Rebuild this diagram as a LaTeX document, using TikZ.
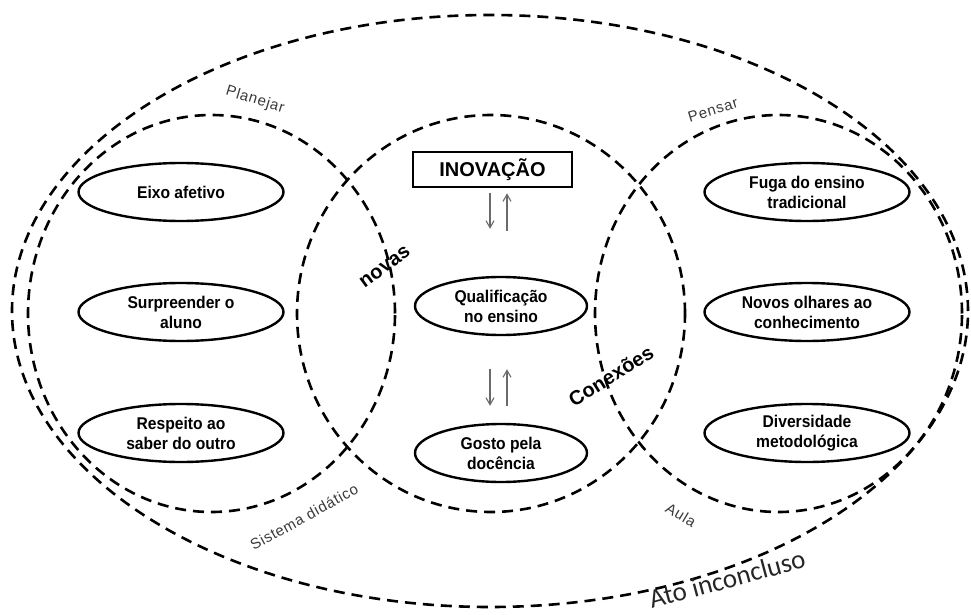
\documentclass[tikz,border=0pt]{standalone}
\usepackage{fontspec}
\setmainfont{Liberation Sans}
\newfontfamily\boxfont{Liberation Sans}[FakeStretch=0.92]
\newfontfamily\tagfont{Liberation Sans}[LetterSpace=5]
\newfontfamily\bigtagfont{Carlito}
\usetikzlibrary{arrows.meta,shapes.geometric}
\definecolor{labelgray}{HTML}{3A3A3A}
\definecolor{arrowgray}{HTML}{6A6A6A}

\begin{document}
\begin{tikzpicture}[x=1pt,y=-1pt,
  region/.style={draw=black, line width=2.6pt, dash pattern=on 11pt off 7pt},
  idea/.style={draw=black, ellipse, line width=2.4pt, minimum width=205pt,
    minimum height=58pt, inner sep=0pt, align=center,
    font=\boxfont\bfseries\fontsize{17}{20}\selectfont},
  titlebox/.style={draw=black, line width=2.6pt, minimum width=159pt,
    minimum height=35pt, inner sep=0pt,
    font=\bfseries\fontsize{20}{24}\selectfont},
  tag/.style={text=labelgray, inner sep=0pt,
    font=\tagfont\fontsize{15}{17}\selectfont},
  keyword/.style={inner sep=0pt, font=\bfseries\fontsize{20}{24}\selectfont},
  arr/.style={draw=arrowgray, line width=1.1pt,
    -{Straight Barb[length=7pt,width=8pt]}}
]
\useasboundingbox (0,0) rectangle (971,615);

% dashed regions
\draw[region] (490,311) ellipse [x radius=478pt, y radius=296pt];
\draw[region] (211.5,313.5) ellipse [x radius=183.5pt, y radius=198.5pt];
\draw[region] (491,313.5) ellipse [x radius=194pt, y radius=198.5pt];
\draw[region] (778.5,313.5) ellipse [x radius=183.5pt, y radius=198.5pt];

% left column
\node[idea] (eixo) at (181,192) {Eixo afetivo};
\node[idea] (surp) at (181,312) {Surpreender o\\aluno};
\node[idea] (resp) at (181,433) {Respeito ao\\saber do outro};

% right column
\node[idea] (fuga) at (807,192) {Fuga do ensino\\tradicional};
\node[idea] (novos) at (807,312) {Novos olhares ao\\conhecimento};
\node[idea] (div) at (807,433) {Diversidade\\metodológica};

% centre column
\node[titlebox] (inov) at (492.5,169.5) {INOVAÇÃO};
\node[idea, minimum width=172pt] (qual) at (501,306) {Qualificação\\no ensino};
\node[idea, minimum width=172pt] (gosto) at (501,453) {Gosto pela\\docência};

% two-way arrows
\draw[arr, shorten <=5pt, shorten >=47pt]
  ([xshift=-11pt]qual.north |- inov.south) -- ([xshift=-11pt]qual.north);
\draw[arr, shorten <=45pt, shorten >=5pt]
  ([xshift=6pt]qual.north) -- ([xshift=6pt]qual.north |- inov.south);
\draw[arr, shorten <=33pt, shorten >=17pt]
  ([xshift=-11pt]qual.south) -- ([xshift=-11pt]gosto.north);
\draw[arr, shorten <=17pt, shorten >=33pt]
  ([xshift=6pt]gosto.north) -- ([xshift=6pt]qual.south);

% region labels
\node[tag, rotate=-17] (planejar) at (255,100) {Planejar};
\node[tag, rotate=17] (pensar) at (713,110) {Pensar};
\node[tag, rotate=29] (sistema) at (304,517) {Sistema didático};
\node[tag, rotate=-31] (aula) at (681,515) {Aula};
\node[text=black!85, inner sep=0pt, rotate=15,
  font=\bigtagfont\fontsize{27}{30}\selectfont] (ato) at (727,579) {Ato inconcluso};
\node[keyword, rotate=36] (novas) at (385,267) {novas};
\node[keyword, rotate=32] (conexoes) at (611,376) {Conexões};
\end{tikzpicture}
\end{document}
